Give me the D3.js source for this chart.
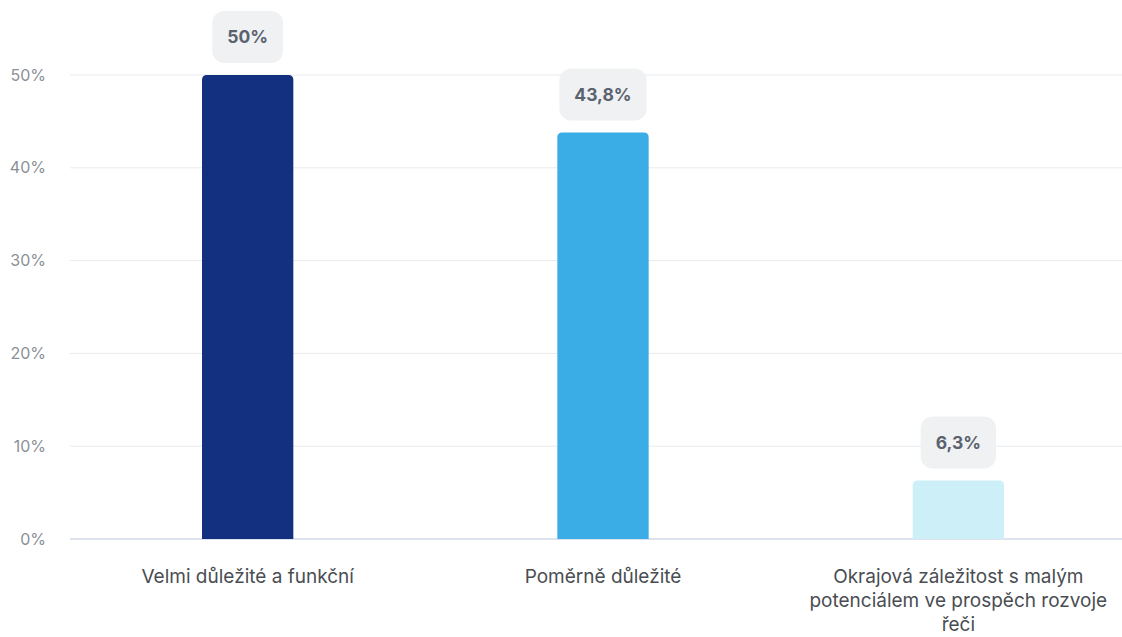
<!DOCTYPE html>
<html>
<head>
<meta charset="utf-8">
<script src="https://cdn.jsdelivr.net/npm/d3@7"></script>
<style>
  body { margin: 0; background: #fff; }
  svg { font-family: Inter, "Noto Sans", sans-serif; display: block; }
</style>
</head>
<body>
<div id="chart"></div>
<script>
var categories = ["Velmi důležité a funkční", "Poměrně důležité", "Okrajová záležitost s malým potenciálem ve prospěch rozvoje řeči"];
var values = [50, 43.8, 6.3];
var labels = ["50%", "43,8%", "6,3%"];
var colors = ["#122f80", "#3aace6", "#cdf0f8"];
var yTicks = [0, 10, 20, 30, 40, 50];

var width = 1122, height = 637;
var margin = { top: 75, right: 0, bottom: 98, left: 70 };

var svg = d3.select("#chart").append("svg")
    .attr("width", width)
    .attr("height", height);

var x = d3.scaleBand()
    .domain(categories)
    .range([margin.left, 1136])
    .padding(0);

var y = d3.scaleLinear()
    .domain([0, 50])
    .range([height - margin.bottom, margin.top]);

// grid
svg.append("g")
    .selectAll("line")
    .data(yTicks)
    .enter().append("line")
    .attr("x1", margin.left)
    .attr("x2", width)
    .attr("y1", function(d) { return y(d); })
    .attr("y2", function(d) { return y(d); })
    .attr("stroke", function(d) { return d === 0 ? "#d3d8e8" : "#e8eaee"; })
    .attr("stroke-width", function(d) { return d === 0 ? 1.5 : 1; });

// y axis labels
var yAxis = svg.append("g")
    .attr("transform", "translate(" + 46 + ",0)")
    .call(d3.axisLeft(y).tickValues(yTicks).tickSize(0).tickPadding(0)
        .tickFormat(function(d) { return d + "%"; }));
yAxis.select(".domain").remove();
yAxis.selectAll("text")
    .attr("font-family", "Inter, sans-serif")
    .attr("font-size", 16)
    .attr("fill", "#8b9097");

var barW = x.bandwidth() * 0.257;
var r = 5;

function barPath(cx, top, bottom, w) {
    var x0 = cx - w / 2, x1 = cx + w / 2;
    return "M" + x0 + "," + bottom +
        "L" + x0 + "," + (top + r) +
        "Q" + x0 + "," + top + " " + (x0 + r) + "," + top +
        "L" + (x1 - r) + "," + top +
        "Q" + x1 + "," + top + " " + x1 + "," + (top + r) +
        "L" + x1 + "," + bottom + "Z";
}

svg.append("g")
    .selectAll("path")
    .data(values)
    .enter().append("path")
    .attr("d", function(d, i) {
        var cx = x(categories[i]) + x.bandwidth() / 2;
        return barPath(cx, y(d), y(0), barW);
    })
    .attr("fill", function(d, i) { return colors[i]; });

// value label boxes
var lab = svg.append("g")
    .selectAll("g")
    .data(values)
    .enter().append("g")
    .attr("transform", function(d, i) {
        var cx = x(categories[i]) + x.bandwidth() / 2;
        return "translate(" + cx + "," + (y(d) - 38) + ")";
    });

lab.append("text")
    .attr("text-anchor", "middle")
    .attr("dy", "0.35em")
    .attr("font-size", 17.5)
    .attr("font-weight", 700)
    .attr("fill", "#5a6270")
    .text(function(d, i) { return labels[i]; });

lab.each(function() {
    var g = d3.select(this);
    var bb = g.select("text").node().getBBox();
    var w = bb.width + 30;
    g.insert("rect", "text")
        .attr("x", -w / 2)
        .attr("y", -26)
        .attr("width", w)
        .attr("height", 52)
        .attr("rx", 12)
        .attr("fill", "#f0f1f2");
});

// category labels
var cat = svg.append("g")
    .selectAll("text")
    .data(categories)
    .enter().append("text")
    .attr("x", function(d) { return x(d) + x.bandwidth() / 2; })
    .attr("y", 583)
    .attr("text-anchor", "middle")
    .attr("font-size", 19)
    .attr("fill", "#4a4d52")
    .text(function(d) { return d; });

cat.each(function() {
    var t = d3.select(this);
    var words = t.text().split(" ");
    var cx = t.attr("x");
    t.text(null);
    var line = [];
    var tspan = t.append("tspan").attr("x", cx).attr("dy", 0);
    words.forEach(function(w) {
        line.push(w);
        tspan.text(line.join(" "));
        if (tspan.node().getComputedTextLength() > 310 && line.length > 1) {
            line.pop();
            tspan.text(line.join(" "));
            line = [w];
            tspan = t.append("tspan").attr("x", cx).attr("dy", 24).text(w);
        }
    });
});
</script>
</body>
</html>
